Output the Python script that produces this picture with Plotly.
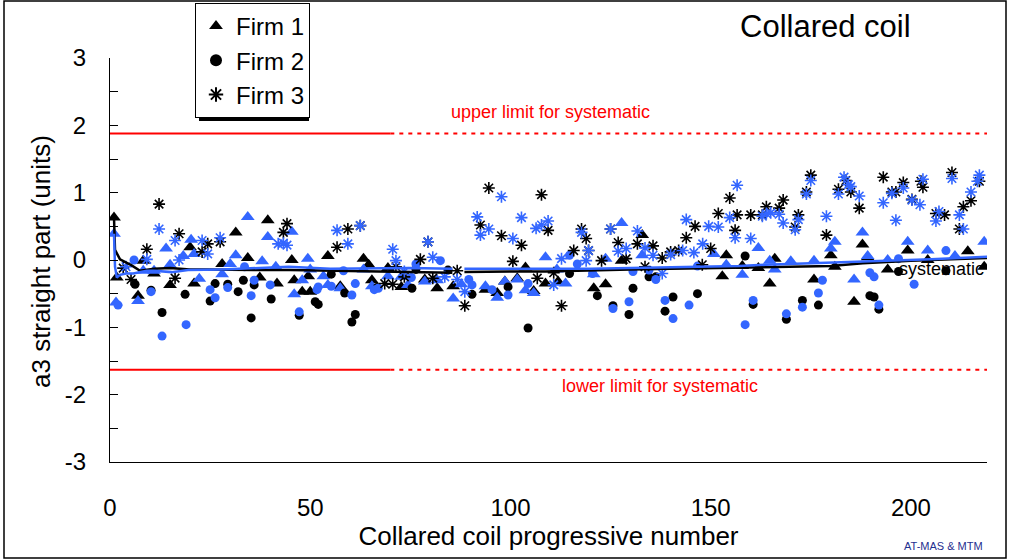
import plotly.graph_objects as go

# ---------------- data ----------------
f1_black_x = [1, 1.7, 7, 8.3, 11, 15, 20, 21, 28, 31.4, 34.4, 37.4, 39.4, 41.7, 45.4, 46, 48, 49.5, 50, 54.4,
              57.5, 63.3, 64.6, 65.4, 69.4, 72.75, 78.6, 81.7, 85.7, 93.75, 96.7, 98.6, 101.7, 103.75, 105.8,
              108.75, 111.9, 120.8, 123.75, 127.75, 132.9, 152.9, 153.9, 157.9, 161.9, 164.75, 166, 175.8, 180,
              181, 185.8, 187.9, 189.2, 194.2, 199.2, 204.2, 214.2, 218.3]
f1_black_y = [0.63, -0.26, -0.53, -0.01, -0.2, -0.37, 0.19, -0.35, -0.06, 0.41, 0.03, -0.26, 0.59, -0.35, 0.0,
              -0.3, -0.47, -0.24, -0.47, 0.06, -0.39, 0.02, -0.07, -0.3, -0.12, -0.4, -0.29, -0.42, -0.39, -0.44,
              -0.49, -0.32, -0.27, -0.11, -0.46, -0.35, -0.32, -0.42, -0.36, -0.01, 0.37, -0.24, 0.07, -0.09,
              -0.12, -0.35, 0.02, -0.29, 0.07, -0.1, -0.62, 0.23, 0.04, -0.14, 0.14, 0.0, 0.13, -0.1]

f1_blue_x = [1, 1.5, 7, 8.3, 11, 14, 15, 18.3, 20.25, 21, 22.3, 28, 30, 31.4, 34.4, 38, 39.4, 41.4, 45.4, 46,
             48, 49.4, 50, 53.3, 54.4, 57.5, 63.3, 65.4, 69.4, 72.75, 74.4, 78.6, 81.7, 85.7, 87.75, 93.75,
             96.7, 98.6, 101.7, 103.75, 105.8, 108.75, 111.6, 113.75, 120.8, 123.75, 127.75, 132.9, 150.8,
             153.9, 157.9, 161.9, 164.75, 166, 170, 175.8, 180, 181, 185.8, 187.9, 189.2, 194.2, 199.2, 204.2,
             211, 218.3]
f1_blue_y = [0.39, -0.63, -0.61, -0.16, -0.16, 0.17, -0.07, 0.06, 0.3, 0.09, -0.28, -0.21, -0.06, 0.07, 0.64,
             -0.02, 0.34, -0.1, 0.42, -0.51, -0.3, 0.02, -0.14, -0.24, -0.37, -0.42, -0.14, -0.39, -0.24, -0.25,
             -0.37, -0.32, -0.3, -0.57, -0.36, -0.39, -0.56, -0.32, -0.29, -0.45, -0.49, 0.04, -0.14, -0.35,
             -0.21, 0.02, 0.55, 0.07, 0.09, -0.07, -0.22, 0.18, -0.01, -0.14, -0.02, -0.01, 0.17, 0.27, -0.29,
             0.41, 0.06, 0.0, 0.27, 0.14, 0.06, 0.27]

f2_black_x = [6.25, 10.25, 13, 18.75, 25, 26.25, 29.4, 32, 33.3, 35.25, 36, 40.25, 47.25, 51.25, 52, 55.25,
              58.6, 60.4, 61.25, 66.7, 75.4, 76.4, 84.4, 90.4, 99.4, 104.4, 114.75, 121.7, 125.6, 129.6, 130.6,
              134.6, 136.3, 138.6, 140.6, 146.7, 158.6, 160.6, 168.9, 172.9, 176.9, 189.75, 190.8, 192, 196.9,
              208.75]
f2_black_y = [-0.36, -0.45, -0.78, -0.51, -0.61, -0.35, -0.36, -0.47, -0.3, -0.86, -0.37, -0.58, -0.82, -0.62,
              -0.66, -0.21, -0.49, -0.92, -0.81, -0.41, -0.42, -0.14, -0.15, -0.51, -0.4, -1.01, -0.2, -0.53,
              -0.68, -0.81, -0.42, -0.25, -0.25, -0.76, -0.55, -0.5, 0.06, -0.66, -0.88, -0.6, -0.67, -0.53,
              -0.55, -0.73, -0.17, -0.16]

f2_blue_x = [2, 6, 10.25, 13, 19, 25, 26.25, 29.4, 33.6, 35.25, 36, 40, 47.25, 51.7, 52, 55.25, 58.3, 60.4,
             61.25, 66, 67, 75.25, 76.4, 82.5, 89.6, 90.4, 95.4, 99.4, 104.4, 114.75, 116.7, 120.5, 125.6,
             129.6, 130.6, 134.6, 136.3, 138.6, 140.6, 144.6, 146.7, 158.6, 160.6, 168.9, 172.9, 176.9, 177.9,
             189.75, 190.8, 192, 196.9, 200.8, 208.75]
f2_blue_y = [-0.67, 0.0, -0.47, -1.13, -0.96, -0.44, -0.56, -0.41, -0.1, -0.53, -0.3, -0.37, -0.77, -0.44,
             -0.4, -0.39, -0.16, -0.52, -0.35, -0.44, -0.42, -0.26, -0.06, -0.01, -0.29, -0.37, -0.44, -0.52,
             -0.35, 0.07, -0.06, -0.2, -0.72, -0.62, -0.17, -0.15, -0.29, -0.6, -0.87, -0.67, -0.09, -0.96,
             -0.6, -0.8, -0.7, -0.49, -0.3, -0.19, -0.25, -0.67, 0.02, -0.36, 0.14]

f3_black_x = [3.3, 5.25, 9.2, 12.25, 16.25, 17.25, 23, 24.4, 27.5, 43.3, 44.2, 56.7, 59.4, 62.5, 68.6, 70.6,
              71.4, 73.5, 77.5, 79.4, 80.6, 86.7, 88.6, 92.5, 94.6, 97.75, 100.6, 102.75, 106.7, 107.75, 109.4,
              110.8, 112.75, 115.8, 117.75, 118.9, 119.5, 122.75, 125, 126.9, 128.9, 131.7, 133.6, 135.6,
              137.9, 140, 142, 143.9, 146.1, 147.9, 150, 151.9, 154.75, 156.1, 156.6, 160, 162.9, 163.9,
              167.1, 168.1, 171.1, 171.9, 173.9, 175, 178.9, 181.9, 183.75, 185, 187.1, 193.1, 195.25,
              196.25, 198.1, 200.25, 202.5, 203, 206.25, 208.4, 210.25, 212.1, 213.1, 215, 217.1]
f3_black_y = [-0.12, -0.29, 0.16, 0.83, -0.27, 0.39, 0.12, 0.24, 0.27, 0.41, 0.54, 0.19, 0.46, 0.51, -0.35,
              -0.36, -0.1, -0.25, 0.01, 0.27, -0.27, -0.16, -0.68, 0.52, 1.07, 0.36, -0.02, 0.22, -0.27, 0.97,
              0.44, -0.19, -0.68, 0.14, 0.46, 0.32, 0.14, -0.01, 0.46, 0.26, 0.02, 0.24, -0.1, 0.21, 0.03,
              0.12, 0.14, 0.33, 0.5, -0.07, 0.17, 0.69, 0.92, 0.44, 0.67, 0.67, 0.67, 0.79, 0.77, 0.89, 0.49,
              0.67, 1.01, 1.26, 0.37, 1.05, 1.18, 1.01, 0.77, 1.23, 1.01, 1.01, 1.15, 0.9, 1.17, 1.08, 0.69,
              0.67, 1.3, 0.46, 0.79, 0.88, 1.17]

f3_blue_x = [4, 9.2, 12.25, 16.25, 17.25, 23, 24.4, 27.5, 42, 43.3, 44.2, 56.7, 59.4, 62.5, 70.6, 71.4, 73.5,
             79.4, 80.6, 83.6, 86.7, 88.6, 91.7, 92.5, 94.6, 97.75, 100.6, 102.75, 106.4, 107.75, 109.4, 110.8,
             112.75, 117.75, 118.9, 119.5, 125, 126.9, 128.9, 131.7, 133.6, 135.6, 137.9, 140, 143, 143.9,
             145.8, 148, 149.5, 151.9, 154.75, 156.1, 156.6, 160, 162.9, 163.9, 165, 167.1, 168.1, 171.1,
             171.9, 173.9, 175, 178.9, 181.9, 183.3, 184.4, 185, 187.1, 193.1, 195.25, 196.25, 198.1, 200.25,
             202.25, 203, 206.25, 207, 210.25, 212.1, 213.1, 215, 216.6, 217.1]
f3_blue_y = [-0.1, 0.01, 0.46, 0.29, 0.0, 0.29, 0.09, 0.33, 0.24, 0.25, 0.22, 0.44, 0.24, 0.51, 0.16, -0.01,
             -0.17, 0.27, 0.04, -0.25, -0.29, -0.47, 0.64, 0.37, 0.46, 0.94, 0.32, 0.63, 0.47, 0.52, 0.58,
             -0.37, 0.02, 0.41, -0.01, 0.14, 0.46, 0.13, 0.17, 0.43, 0.18, 0.07, -0.2, 0.08, 0.14, 0.6, 0.11,
             0.24, 0.5, 0.49, 0.63, 0.33, 1.11, 0.32, 0.65, 0.69, 0.7, 0.68, 0.55, 0.45, 0.6, 0.98, 1.18, 0.65,
             0.98, 1.23, 1.12, 1.09, 0.95, 0.85, 0.99, 0.59, 1.07, 0.89, 0.82, 1.2, 0.58, 0.72, 1.21, 0.67,
             0.46, 1.01, 1.17, 1.26]

sys_black_x = [1, 1.25, 2.5, 4.2, 5.4, 7.5, 11, 15, 20, 24, 30, 36, 45, 55, 65, 75, 85.5, None,
               88.5, 95, 100, 108.75, 120, 130, 140, 150, 157, 163.75, 172, 180, 188, 200, 210, 219.5]
sys_black_y = [0.63, 0.15, 0.01, -0.04, -0.08, -0.16, -0.13, -0.12, -0.14, -0.14, -0.15, -0.15, -0.15,
               -0.16, -0.16, -0.17, -0.19, None, -0.18, -0.17, -0.17, -0.17, -0.15, -0.14, -0.13, -0.12,
               -0.11, -0.1, -0.1, -0.09, -0.05, -0.01, 0.01, 0.03]

sys_blue_x = [1, 1.25, 1.7, 2.5, 4, 5.8, 9.2, 11, 15.4, 19.5, 28, 36, 44.6, 55, 65, 75, 85.5, None,
              88.5, 95, 100, 108.75, 120, 130, 140, 150, 157, 163.75, 175, 185, 195, 205, 212, 219.5]
sys_blue_y = [0.39, -0.1, -0.26, -0.22, -0.2, -0.2, -0.16, -0.16, -0.18, -0.15, -0.14, -0.12, -0.1, -0.13,
              -0.12, -0.12, -0.13, None, -0.13, -0.13, -0.13, -0.14, -0.13, -0.12, -0.11, -0.1, -0.09,
              -0.07, -0.05, -0.03, -0.01, 0.01, 0.03, 0.05]

upper_limit = 1.88
lower_limit = -1.63
limit_x_start = 0
limit_x_split = 70
limit_x_end = 219

x_ticks = [0, 50, 100, 150, 200]
y_ticks = [-3, -2, -1, 0, 1, 2, 3]
y_tick_text = ["-3", "-2", "-1", "0", "1", "2", "3"]

# ---------------- figure ----------------
BLUE = "#3366FF"
RED = "#FF0000"
FONT = "Liberation Sans, Arial, sans-serif"

fig = go.Figure()

# red limit lines
for lim in (upper_limit, lower_limit):
    fig.add_trace(go.Scatter(x=[limit_x_start, limit_x_split], y=[lim, lim], mode="lines",
                             line=dict(color=RED, width=2), showlegend=False, hoverinfo="skip"))
    fig.add_trace(go.Scatter(x=[limit_x_split, limit_x_end], y=[lim, lim], mode="lines",
                             line=dict(color=RED, width=2, dash="4px,5px"), showlegend=False, hoverinfo="skip"))

tri = dict(symbol="triangle-up", size=12)
cir = dict(symbol="circle", size=9)
ast = dict(symbol="asterisk-open", size=10)

fig.add_trace(go.Scatter(x=f1_black_x, y=f1_black_y, mode="markers", name="Firm 1",
                         marker=dict(**tri, color="black")))
fig.add_trace(go.Scatter(x=f1_blue_x, y=f1_blue_y, mode="markers", showlegend=False,
                         marker=dict(**tri, color=BLUE)))
fig.add_trace(go.Scatter(x=f2_black_x, y=f2_black_y, mode="markers", name="Firm 2",
                         marker=dict(**cir, color="black")))
fig.add_trace(go.Scatter(x=f2_blue_x, y=f2_blue_y, mode="markers", showlegend=False,
                         marker=dict(**cir, color=BLUE)))
fig.add_trace(go.Scatter(x=f3_black_x, y=f3_black_y, mode="markers", name="Firm 3",
                         marker=dict(**ast, color="black", line=dict(color="black", width=1.6))))
fig.add_trace(go.Scatter(x=f3_blue_x, y=f3_blue_y, mode="markers", showlegend=False,
                         marker=dict(**ast, color=BLUE, line=dict(color=BLUE, width=1.6))))

fig.add_trace(go.Scatter(x=sys_black_x, y=sys_black_y, mode="lines", showlegend=False,
                         line=dict(color="black", width=2.5), connectgaps=False))
fig.add_trace(go.Scatter(x=sys_blue_x, y=sys_blue_y, mode="lines", showlegend=False,
                         line=dict(color=BLUE, width=2.5), connectgaps=False))

# plot area: x 110..987, y 58..462 in pixels
FW, FH = 1012, 560
L, R, T, B = 110, 987, 58, 462
W, H = R - L, B - T
def px(xp): return (xp - L) / W
def py(yp): return (B - yp) / H

shapes = [
    # outer frame
    dict(type="rect", xref="paper", yref="paper", x0=px(4), x1=px(1006), y0=py(558), y1=py(1),
         line=dict(color="black", width=1.5), fillcolor="rgba(0,0,0,0)", layer="below"),
    # legend shadow
    dict(type="rect", xref="paper", yref="paper", x0=px(199), x1=px(309), y0=py(121), y1=py(7),
         line=dict(width=0), fillcolor="black", layer="above"),
]

annotations = [
    dict(text="Collared coil", x=px(825), y=py(27), xref="paper", yref="paper", showarrow=False,
         font=dict(size=31, color="black", family=FONT), xanchor="center", yanchor="middle"),
    dict(text="a3 straight part (units)", x=px(41), y=py(262), xref="paper", yref="paper",
         showarrow=False, textangle=-90,
         font=dict(size=26, color="black", family=FONT), xanchor="center", yanchor="middle"),
    dict(text="upper limit for systematic", x=110, y=2.2, xref="x", yref="y", showarrow=False,
         font=dict(size=18, color=RED, family=FONT), xanchor="center", yanchor="middle"),
    dict(text="lower limit for systematic", x=137.25, y=-1.87, xref="x", yref="y", showarrow=False,
         font=dict(size=18, color=RED, family=FONT), xanchor="center", yanchor="middle"),
    dict(text="systematic", x=196.5, y=-0.13, xref="x", yref="y", showarrow=False,
         font=dict(size=18, color="black", family=FONT), xanchor="left", yanchor="middle"),
    dict(text="AT-MAS & MTM", x=px(985), y=py(546), xref="paper", yref="paper", showarrow=False,
         font=dict(size=11, color="#1F2F8F", family=FONT), xanchor="right", yanchor="middle"),
]

fig.update_layout(
    width=FW, height=FH,
    margin=dict(l=L, r=FW - R, t=T, b=FH - B, pad=0, autoexpand=False),
    paper_bgcolor="white", plot_bgcolor="white",
    font=dict(family=FONT, color="black"),
    showlegend=True,
    legend=dict(x=195 / FW, y=1 - 3 / FH, xref="container", yref="container",
                xanchor="left", yanchor="top", bgcolor="white",
                bordercolor="black", borderwidth=1, font=dict(size=24, family=FONT),
                itemsizing="constant", tracegroupgap=0),
    shapes=shapes,
    annotations=annotations,
    xaxis=dict(range=[0, 219], tickvals=x_ticks, showgrid=False, zeroline=False,
               showline=True, linecolor="black", linewidth=1, ticks="",
               tickfont=dict(size=24, family=FONT), ticklabelstandoff=24,
               title=dict(text="Collared coil progressive number", font=dict(size=26, family=FONT), standoff=6)),
    yaxis=dict(range=[-3, 3], tickvals=y_ticks, ticktext=y_tick_text, showgrid=False, zeroline=False,
               showline=True, linecolor="black", linewidth=1, ticks="inside", ticklen=8,
               tickcolor="black",
               minor=dict(ticks="inside", dtick=0.5, ticklen=8, tickcolor="black"),
               tickfont=dict(size=24, family=FONT), ticklabelstandoff=18),
)

fig.write_html("out.html")
